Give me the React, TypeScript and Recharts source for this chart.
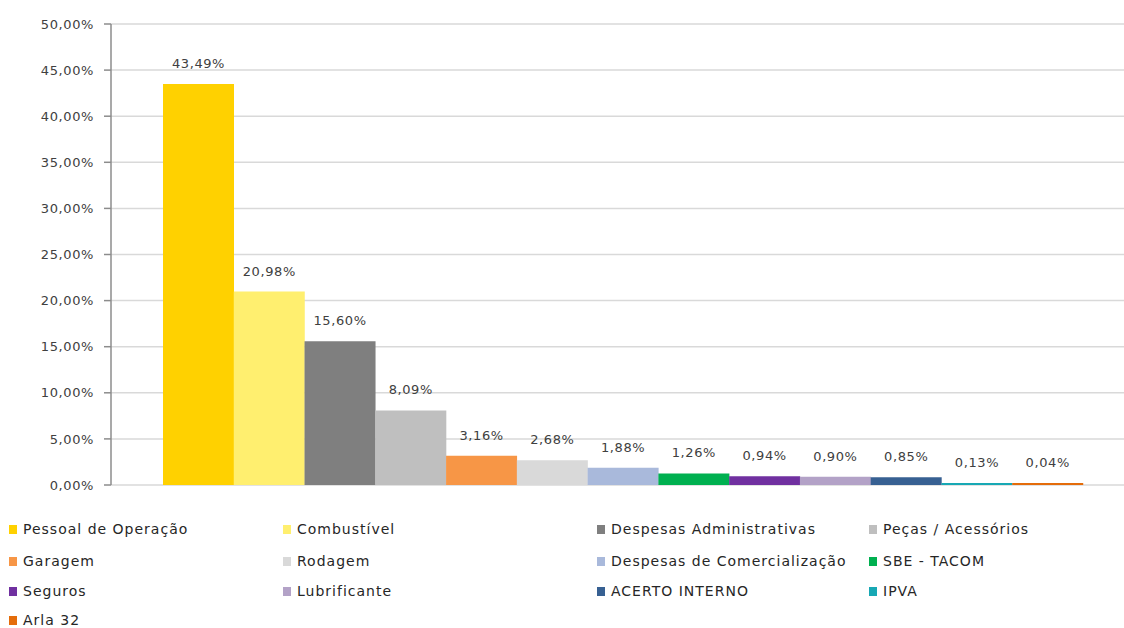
import React from 'react';
import { BarChart, Bar, XAxis, YAxis, CartesianGrid, Cell, LabelList } from 'recharts';

const categories = [
  'Pessoal de Operação',
  'Combustível',
  'Despesas Administrativas',
  'Peças / Acessórios',
  'Garagem',
  'Rodagem',
  'Despesas de Comercialização',
  'SBE - TACOM',
  'Seguros',
  'Lubrificante',
  'ACERTO INTERNO',
  'IPVA',
  'Arla 32',
];
const values = [43.49, 20.98, 15.6, 8.09, 3.16, 2.68, 1.88, 1.26, 0.94, 0.9, 0.85, 0.13, 0.04];
const colors = [
  '#FFD100',
  '#FFEF6F',
  '#7F7F7F',
  '#BFBFBF',
  '#F79646',
  '#D9D9D9',
  '#A9B9DB',
  '#00B050',
  '#7030A0',
  '#B3A2C7',
  '#376092',
  '#17A8B4',
  '#E46C0A',
];
const yTicks = [0, 5, 10, 15, 20, 25, 30, 35, 40, 45, 50];

const legendColumns = [9, 283, 597, 869];
const legendRows = [529, 561, 591, 620];

const data = categories.map((name, i) => ({ name, value: values[i], color: colors[i] }));

const fmt = (v: number) => v.toFixed(2).replace('.', ',') + '%';

const FONT = '"DejaVu Sans", Verdana, sans-serif';
const TEXT = '#404040';

export default function App() {
  return (
    <div
      style={{
        position: 'fixed',
        left: 0,
        top: 0,
        width: 1124,
        height: 628,
        overflow: 'hidden',
        background: '#ffffff',
        fontFamily: FONT,
      }}
    >
      <div style={{ position: 'absolute', left: 0, top: 0 }}>
        <BarChart
          width={1140}
          height={500}
          data={data}
          margin={{ top: 24, right: 5, bottom: 15, left: 0 }}
          barCategoryGap={0}
        >
          <CartesianGrid vertical={false} stroke="#D9D9D9" strokeWidth={1.5} />
          <XAxis dataKey="name" hide padding={{ left: 52, right: 52 }} />
          <YAxis
            width={111}
            domain={[0, 50]}
            ticks={yTicks}
            tickFormatter={fmt}
            interval={0}
            tickSize={7}
            tickMargin={10}
            axisLine={{ stroke: '#8C8C8C', strokeWidth: 1.5 }}
            tickLine={{ stroke: '#8C8C8C', strokeWidth: 1.5 }}
            tick={{ fill: TEXT, fontSize: 13, fontFamily: FONT, letterSpacing: 0.6 }}
          />
          <Bar dataKey="value" isAnimationActive={false} minPointSize={2}>
            {data.map((d, i) => (
              <Cell key={i} fill={d.color} />
            ))}
            <LabelList
              dataKey="value"
              position="top"
              offset={16}
              formatter={(v: any) => fmt(Number(v))}
              style={{ fill: TEXT, fontSize: 13, fontFamily: FONT, letterSpacing: 0.6 }}
            />
          </Bar>
        </BarChart>
      </div>
      {data.map((d, i) => {
        const col = i % 4;
        const row = Math.floor(i / 4);
        return (
          <div
            key={d.name}
            style={{
              position: 'absolute',
              left: legendColumns[col],
              top: legendRows[row] - 10,
              height: 20,
              display: 'flex',
              alignItems: 'center',
              whiteSpace: 'nowrap',
            }}
          >
            <span
              style={{
                display: 'inline-block',
                width: 8,
                height: 9,
                background: d.color,
                marginRight: 6,
              }}
            />
            <span style={{ fontSize: 14, color: '#262626', letterSpacing: 1, fontFamily: FONT }}>
              {d.name}
            </span>
          </div>
        );
      })}
    </div>
  );
}
